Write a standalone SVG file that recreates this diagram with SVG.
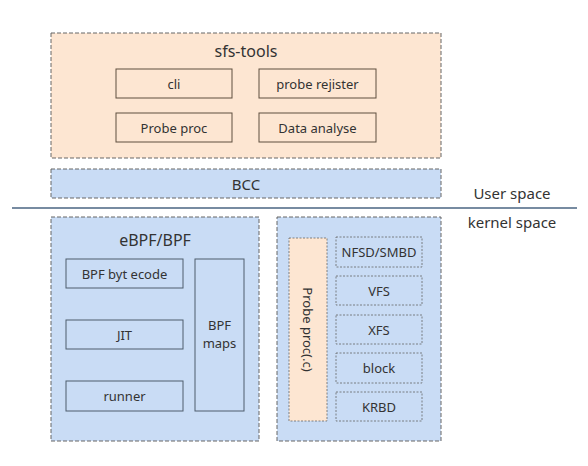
<svg xmlns="http://www.w3.org/2000/svg" width="588" height="466" viewBox="0 0 588 466">
<style>
text{font-family:"Noto Sans","Open Sans","DejaVu Sans",sans-serif;fill:#333;text-anchor:middle;dominant-baseline:central}
.outerO{fill:#fde6d2;stroke:#666;stroke-width:1;stroke-dasharray:4,2}
.outerB{fill:#c9dcf5;stroke:#666;stroke-width:1;stroke-dasharray:4,2}
.solidO{fill:#fde6d2;stroke:#5e4e3e;stroke-width:1}
.solidB{fill:#c9dcf5;stroke:#4e5c6c;stroke-width:1}
.dashB{fill:#c9dcf5;stroke:#666;stroke-width:0.8;stroke-dasharray:2,1.5}
.dashO{fill:#fde6d2;stroke:#666;stroke-width:0.8;stroke-dasharray:2,1.5}
.t13{font-size:13px}
.t16{font-size:16px}
.t15{font-size:15px}
</style>
<rect width="588" height="466" fill="#ffffff"/>
<g id="sfs-tools">
<rect class="outerO" x="51" y="33" width="390" height="125"/>
<text class="t16" x="246" y="51">sfs-tools</text>
</g>
<g id="cli"><rect class="solidO" x="116" y="69" width="116" height="29"/><text class="t13" x="174" y="83.5">cli</text></g>
<g id="probe-rejister"><rect class="solidO" x="259" y="69" width="117" height="29"/><text class="t13" x="317.5" y="83.5">probe rejister</text></g>
<g id="probe-proc"><rect class="solidO" x="116" y="113" width="116" height="29"/><text class="t13" x="174" y="127.5">Probe proc</text></g>
<g id="data-analyse"><rect class="solidO" x="259" y="113" width="117" height="29"/><text class="t13" x="317.5" y="127.5">Data analyse</text></g>
<g id="bcc"><rect class="outerB" x="51" y="169" width="390" height="29"/><text class="t15" x="246" y="184">BCC</text></g>
<g id="connectors">
<line x1="12" y1="208" x2="577" y2="208" stroke="#4a6582" stroke-width="1.3"/>
</g>
<g id="user-space"><text class="t15" x="512" y="193">User space</text></g>
<g id="kernel-space"><text class="t15" x="512" y="222">kernel space</text></g>
<g id="ebpf">
<rect class="outerB" x="51" y="217" width="208" height="224"/>
<text class="t16" x="155" y="240">eBPF/BPF</text>
</g>
<g id="bpf-bytecode"><rect class="solidB" x="66" y="259" width="117" height="29"/><text class="t13" x="124.5" y="273.5">BPF byt ecode</text></g>
<g id="jit"><rect class="solidB" x="66" y="320" width="117" height="29"/><text class="t13" x="124.5" y="334.5">JIT</text></g>
<g id="runner"><rect class="solidB" x="66" y="381" width="117" height="30"/><text class="t13" x="124.5" y="396">runner</text></g>
<g id="bpf-maps"><rect class="solidB" x="195" y="259" width="49" height="152"/><text class="t13" x="219.5" y="324.5">BPF</text><text class="t13" x="219.5" y="342.5">maps</text></g>
<g id="kernel">
<rect class="outerB" x="277" y="217" width="164" height="224"/>
</g>
<g id="probe-proc-c"><rect class="dashO" x="289" y="238" width="38" height="183"/><text class="t13" transform="translate(308,329.5) rotate(90)">Probe proc(.c)</text></g>
<g id="nfsd"><rect class="dashB" x="336" y="237" width="86" height="30"/><text class="t13" x="379" y="252">NFSD/SMBD</text></g>
<g id="vfs"><rect class="dashB" x="336" y="276" width="86" height="29"/><text class="t13" x="379" y="290.5">VFS</text></g>
<g id="xfs"><rect class="dashB" x="336" y="315" width="86" height="29"/><text class="t13" x="379" y="329.5">XFS</text></g>
<g id="block"><rect class="dashB" x="336" y="353" width="86" height="30"/><text class="t13" x="379" y="368">block</text></g>
<g id="krbd"><rect class="dashB" x="336" y="392" width="86" height="29"/><text class="t13" x="379" y="406.5">KRBD</text></g>
</svg>
